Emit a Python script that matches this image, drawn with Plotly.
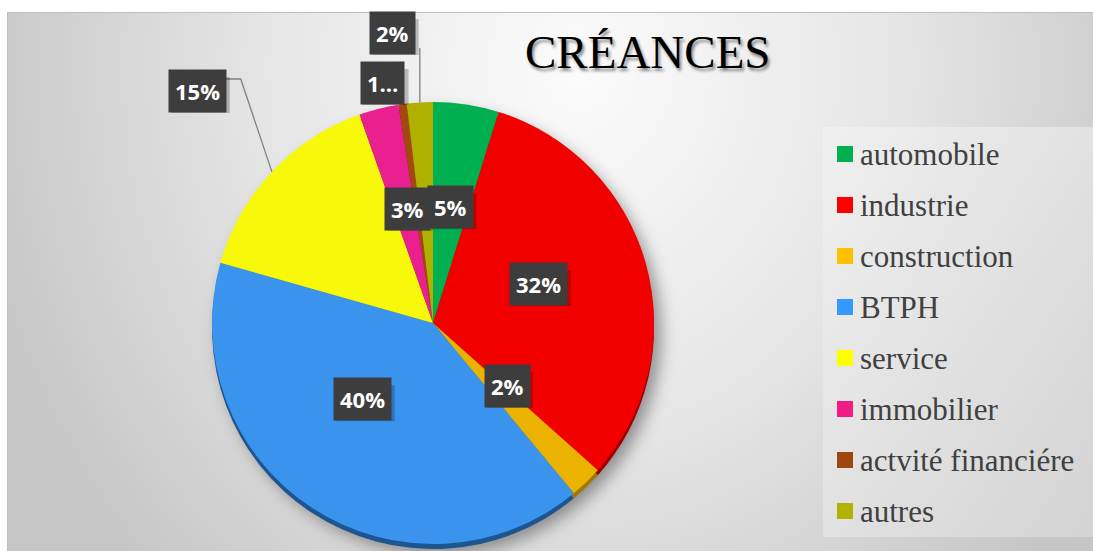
import base64
import math
import plotly.graph_objects as go

# ---------------- data ----------------
categories = ["automobile", "industrie", "construction", "BTPH", "service",
              "immobilier", "actvité financiére", "autres"]
values = [4.8, 31.8, 2.4, 40.4, 15.2, 2.9, 0.6, 1.9]
truncated_labels = {"actvité financiére": "1…"}
title_text = "CRÉANCES"

# ---------------- style ----------------
W, H = 1093, 551
pie_colors = ["#00b050", "#f20000", "#ebb300", "#3a94ee", "#f8f80a", "#eb2090", "#a3480f", "#b0b000"]
rim_colors = ["#006a30", "#9a0000", "#a07800", "#1d5590", "#a0a000", "#9a1060", "#6a2a05", "#707000"]
legend_colors = ["#00b050", "#ff0000", "#ffc000", "#3399ff", "#ffff00", "#f21b85", "#9e480e", "#b2b200"]
# label placement: (radius factor, angle nudge in degrees, leader style)
label_place = [(0.53, 0.0, None), (0.51, -4.7, None), (0.44, -5.7, None), (0.47, 9.6, None),
               (1.495, 1.4, "elbow"), (0.53, 1.5, None), (1.11, -3.9, None), (1.325, -4.45, "vertical")]
label_order = [1, 2, 3, 4, 5, 0, 6, 7]  # draw 5% box on top of 3% box

CX, CY, R = 433.0, 323.0, 221.0  # pie centre / radius in pixels
RIM = 5

def px_x(x):
    return x / W

def px_y(y):
    return 1 - y / H

dom_x = [px_x(CX - R), px_x(CX + R)]
dom_y = [px_y(CY + R), px_y(CY - R)]
rim_y = [px_y(CY + R + RIM), px_y(CY - R + RIM)]

# ---------------- background (svg) ----------------
svg = f'''<svg xmlns="http://www.w3.org/2000/svg" width="{W}" height="{H}" viewBox="0 0 {W} {H}" preserveAspectRatio="none">
<defs>
<radialGradient id="bg" gradientUnits="userSpaceOnUse" cx="580" cy="70" r="620" gradientTransform="translate(580 70) scale(1 1.15) translate(-580 -70)">
<stop offset="0" stop-color="#fbfbfb"/><stop offset="0.5" stop-color="#e6e6e6"/><stop offset="1" stop-color="#c6c6c6"/>
</radialGradient>
<linearGradient id="lg" x1="0" y1="0" x2="1" y2="1">
<stop offset="0" stop-color="#f0f0f0"/><stop offset="1" stop-color="#d3d3d3"/>
</linearGradient>
<filter id="blur" x="-30%" y="-30%" width="160%" height="160%"><feGaussianBlur stdDeviation="8"/></filter>
</defs>
<rect x="0" y="0" width="{W}" height="{H}" fill="#ffffff"/>
<rect x="7.5" y="12.5" width="{W}" height="{H}" fill="url(#bg)" stroke="#bfbfbf" stroke-width="1"/>
<rect x="823" y="127" width="{W-823}" height="410" fill="url(#lg)"/>
<circle cx="{CX+7}" cy="{CY+10}" r="{R}" fill="#000000" fill-opacity="0.38" filter="url(#blur)"/>
</svg>'''
svg_uri = "data:image/svg+xml;base64," + base64.b64encode(svg.encode("utf-8")).decode("ascii")

fig = go.Figure()
# 3D rim
fig.add_trace(go.Pie(labels=categories, values=values, sort=False, direction="clockwise",
                     rotation=0, marker=dict(colors=rim_colors, line=dict(width=0)),
                     textinfo="none", hoverinfo="skip", domain=dict(x=dom_x, y=rim_y),
                     showlegend=False))
# main pie
fig.add_trace(go.Pie(labels=categories, values=values, sort=False, direction="clockwise",
                     rotation=0, marker=dict(colors=pie_colors, line=dict(width=0)),
                     textinfo="none", domain=dict(x=dom_x, y=dom_y), showlegend=False))

# ---------------- data labels ----------------
total = sum(values)
cum = 0
mids = []
for v in values:
    mids.append((cum + v / 2) / total * 360)
    cum += v

texts = [truncated_labels.get(c, f"{round(v / total * 100)}%") for c, v in zip(categories, values)]

def text_w(t):
    w = 0
    for ch in t:
        w += 12.6 if ch.isdigit() else 19.0
    return w

annotations = []
shapes = []
LBL_FONT = dict(family="Open Sans", size=22, weight="bold")
for i in label_order:
    rf, nudge, leader = label_place[i]
    a = math.radians(mids[i] + nudge)
    lx = CX + rf * R * math.sin(a)
    ly = CY - rf * R * math.cos(a)
    if leader:
        am = math.radians(mids[i])
        ex = CX + R * math.sin(am)
        ey = CY - R * math.cos(am)
        if leader == "elbow":
            path = f"M {px_x(ex)} {px_y(ey)} L {px_x(lx + 43)} {px_y(ly - 12)} L {px_x(lx + 25)} {px_y(ly - 12)}"
        else:
            path = f"M {px_x(ex)} {px_y(ey)} L {px_x(ex)} {px_y(ly + 15)}"
        shapes.append(dict(type="path", path=path, xref="paper", yref="paper",
                           line=dict(color="#808080", width=1.3), layer="above"))
    # soft shadow behind the label box
    bw, bh = text_w(texts[i]) + 14, 36
    sx, sy = lx + 3, ly + 4
    shapes.append(dict(type="rect", xref="paper", yref="paper",
                       x0=px_x(sx - bw / 2), x1=px_x(sx + bw / 2),
                       y0=px_y(sy + bh / 2), y1=px_y(sy - bh / 2),
                       fillcolor="rgba(0,0,0,0.22)", line=dict(width=0), layer="above"))
    annotations.append(dict(x=px_x(lx), y=px_y(ly), xref="paper", yref="paper", text=texts[i],
                            showarrow=False, xanchor="center", yanchor="middle",
                            font=dict(LBL_FONT, color="#ffffff"),
                            bgcolor="#3d3d3d", borderpad=6))

# ---------------- title ----------------
annotations.append(dict(x=px_x(648), y=px_y(52), xref="paper", yref="paper", text=title_text,
                        showarrow=False, xanchor="center", yanchor="middle",
                        font=dict(family="Liberation Serif", size=47, color="#000000",
                                  shadow="2px 3px 3px rgba(0,0,0,0.45)")))

# ---------------- legend ----------------
LEG_X, LEG_Y0, LEG_DY, SQ = 837, 154, 51, 16
for k, (c, col) in enumerate(zip(categories, legend_colors)):
    yc = LEG_Y0 + k * LEG_DY
    shapes.append(dict(type="rect", xref="paper", yref="paper",
                       x0=px_x(LEG_X), x1=px_x(LEG_X + SQ), y0=px_y(yc + SQ / 2), y1=px_y(yc - SQ / 2),
                       fillcolor=col, line=dict(width=0), layer="above"))
    annotations.append(dict(x=px_x(LEG_X + SQ + 5), y=px_y(yc), xref="paper", yref="paper", text=c,
                            showarrow=False, xanchor="left", yanchor="middle",
                            font=dict(family="Liberation Serif", size=31, color="#404040")))

fig.update_layout(
    width=W, height=H, margin=dict(l=0, r=0, t=0, b=0),
    paper_bgcolor="#ffffff", plot_bgcolor="rgba(0,0,0,0)",
    showlegend=False,
    images=[dict(source=svg_uri, xref="paper", yref="paper", x=0, y=1, sizex=1, sizey=1,
                 sizing="stretch", xanchor="left", yanchor="top", layer="below")],
    annotations=annotations, shapes=shapes,
)
fig.write_html("out.html")
